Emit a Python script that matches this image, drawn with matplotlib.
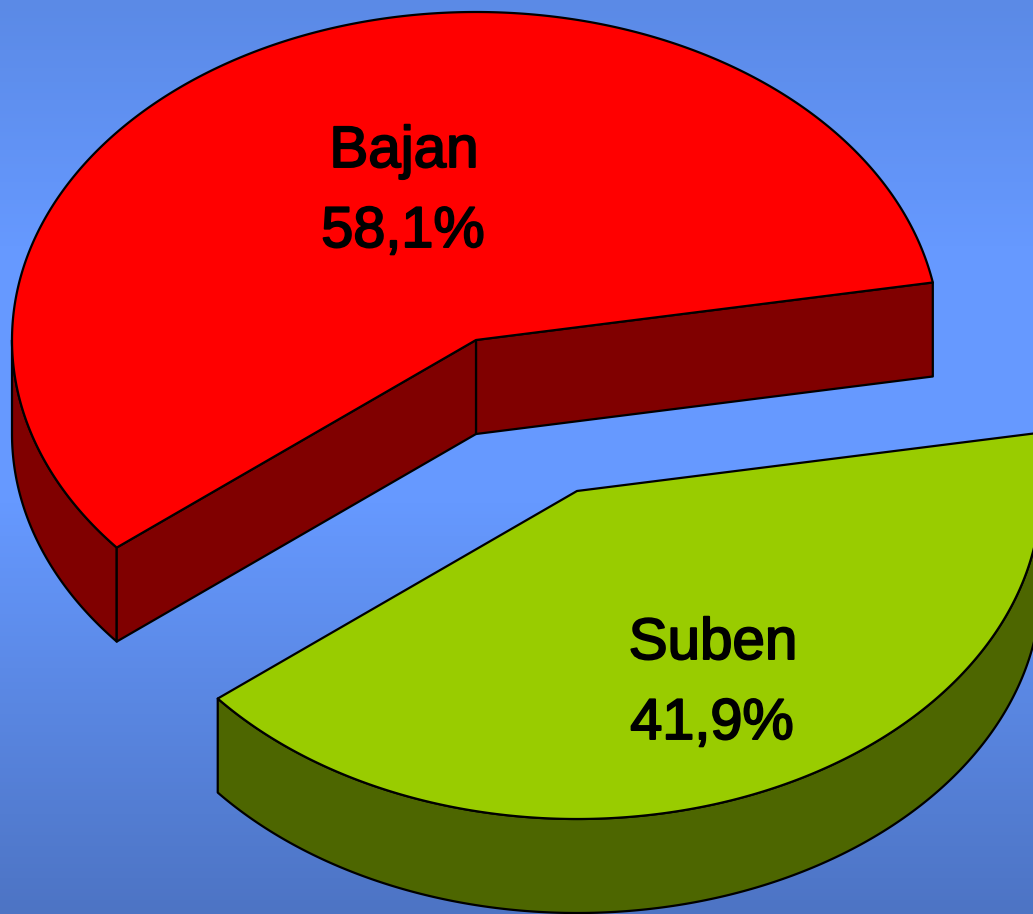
import numpy as np
import matplotlib
matplotlib.use('Agg')
import matplotlib.pyplot as plt
import matplotlib.patheffects as pe
from matplotlib.patches import Polygon
from matplotlib.colors import LinearSegmentedColormap

labels = ['Bajan', 'Suben']
shares = [58.1, 41.9]
share_texts = ['58,1%', '41,9%']
top_colors = ['#FF0000', '#99CC00']
side_colors = ['#800000', '#4D6600']

# pie shape in pixels
start_angle = 10.1
rx, ry = 464, 328
depth = 94
centers = [(476, 340), (577, 491)]
label_pos = [(404, 152), (713, 644)]
value_pos = [(403, 232), (712, 724)]

bg_stops = [(0.0, '#5B8AE6'), (0.27, '#6699FF'), (0.55, '#6699FF'), (1.0, '#4D74C4')]

fig = plt.figure(figsize=(10.33, 9.14), dpi=100)
ax = fig.add_axes([0, 0, 1, 1])
ax.set_xlim(0, 1033)
ax.set_ylim(914, 0)
ax.axis('off')

cmap = LinearSegmentedColormap.from_list('bg', bg_stops)
ax.imshow(np.linspace(0, 1, 256).reshape(-1, 1), cmap=cmap, aspect='auto',
          extent=[0, 1033, 914, 0], zorder=0)


def arc(cx, cy, t0, t1, dy=0):
    t = np.radians(np.linspace(t0, t1, max(int(abs(t1 - t0) * 2), 2)))
    return np.column_stack([cx + rx * np.cos(t), cy - ry * np.sin(t) + dy])


def draw_poly(pts, color, z):
    ax.add_patch(Polygon(pts, closed=True, facecolor=color, edgecolor='black',
                         linewidth=1.6, joinstyle='round', zorder=z))


angle = start_angle
for i, share in enumerate(shares):
    sweep = share / sum(shares) * 360
    t0, t1 = angle, angle + sweep
    cx, cy = centers[i]

    # outer wall, only the front half of the ellipse shows
    for lo, hi in [(180, 360), (540, 720)]:
        a, b = max(t0, lo), min(t1, hi)
        if a < b:
            draw_poly(np.vstack([arc(cx, cy, a, b), arc(cx, cy, a, b, depth)[::-1]]),
                      side_colors[i], 2 + i * 2)

    # cut faces facing the viewer (only the first slice shows them)
    if i == 0:
        for t in (t0, t1):
            p = arc(cx, cy, t, t + 0.1)[0]
            draw_poly([(cx, cy), p, (p[0], p[1] + depth), (cx, cy + depth)], side_colors[i], 2)

    draw_poly(np.vstack([[(cx, cy)], arc(cx, cy, t0, t1)]), top_colors[i], 3 + i * 2)
    angle = t1

stroke = [pe.withStroke(linewidth=1.4, foreground='black')]
for i in range(len(labels)):
    ax.text(*label_pos[i], labels[i], ha='center', va='center', fontsize=42,
            family='Liberation Sans', color='black', path_effects=stroke, zorder=8)
    ax.text(*value_pos[i], share_texts[i], ha='center', va='center', fontsize=41.5,
            family='Liberation Sans', color='black', path_effects=stroke, zorder=8)

fig.savefig('out.png', dpi=100)
